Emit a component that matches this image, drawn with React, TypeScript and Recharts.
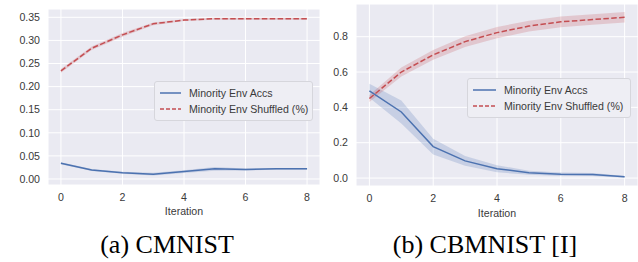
import { Area, CartesianGrid, ComposedChart, Legend, Line, XAxis, YAxis } from "recharts"

const ITERATIONS = [0, 1, 2, 3, 4, 5, 6, 7, 8]

// (a) CMNIST
const CMNIST_ACCS = [0.034, 0.0195, 0.0135, 0.0105, 0.016, 0.022, 0.0205, 0.022, 0.022]
const CMNIST_ACCS_SPREAD = [0.002, 0.002, 0.002, 0.003, 0.003, 0.004, 0.002, 0.002, 0.002]
const CMNIST_SHUF = [0.234, 0.283, 0.312, 0.336, 0.344, 0.347, 0.347, 0.347, 0.347]
const CMNIST_SHUF_SPREAD = [0.004, 0.004, 0.004, 0.003, 0.002, 0.002, 0.002, 0.002, 0.002]

// (b) CBMNIST [I]
const CBMNIST_ACCS = [0.494, 0.374, 0.178, 0.097, 0.053, 0.03, 0.022, 0.02, 0.007]
const CBMNIST_ACCS_SPREAD = [0.04, 0.065, 0.045, 0.028, 0.02, 0.012, 0.01, 0.008, 0.005]
const CBMNIST_SHUF = [0.45, 0.6, 0.697, 0.772, 0.823, 0.86, 0.884, 0.897, 0.91]
const CBMNIST_SHUF_SPREAD = [0.02, 0.025, 0.028, 0.03, 0.032, 0.03, 0.03, 0.03, 0.03]

const X_TICKS = [0, 2, 4, 6, 8]
const CMNIST_Y_TICKS = [0, 0.05, 0.1, 0.15, 0.2, 0.25, 0.3, 0.35]
const CBMNIST_Y_TICKS = [0, 0.2, 0.4, 0.6, 0.8]

const SERIES_NAMES = { acc: "Minority Env Accs", shuf: "Minority Env Shuffled (%)" }

const BLUE = "#4C72B0"
const RED = "#C44E52"
const TEXT = "#3a3a3a"
const FONT = "'Liberation Sans', Arial, sans-serif"

function buildRows(acc: number[], accS: number[], shuf: number[], shufS: number[]) {
  return ITERATIONS.map((it, i) => ({
    it,
    acc: acc[i],
    accBand: [acc[i] - accS[i], acc[i] + accS[i]],
    shuf: shuf[i],
    shufBand: [shuf[i] - shufS[i], shuf[i] + shufS[i]],
  }))
}

function LegendBox({ width, lineLen }: { width: number; lineLen: number }) {
  const items = [
    { key: "acc", color: BLUE, dash: undefined },
    { key: "shuf", color: RED, dash: "4 2" },
  ] as const
  return (
    <div
      style={{
        width,
        boxSizing: "border-box",
        padding: "3px 0 3px 5px",
        background: "#EEEEF4",
        border: "1px solid #D6D6DC",
        borderRadius: 3,
        fontFamily: FONT,
        fontSize: 10.6,
        color: TEXT,
      }}
    >
      {items.map((item) => (
        <div key={item.key} style={{ display: "flex", alignItems: "center", height: 16 }}>
          <svg width={lineLen} height={6} style={{ marginRight: 8 }}>
            <line
              x1={0}
              y1={3}
              x2={lineLen}
              y2={3}
              stroke={item.color}
              strokeWidth={1.5}
              strokeDasharray={item.dash}
            />
          </svg>
          <span style={{ whiteSpace: "nowrap" }}>{SERIES_NAMES[item.key]}</span>
        </div>
      ))}
    </div>
  )
}

function Panel({
  rows,
  yDomain,
  yTicks,
  yWidth,
  top,
  legendPos,
  legendWidth,
  lineLen,
  labelOffset,
  tickFmt,
}: {
  rows: ReturnType<typeof buildRows>
  yDomain: [number, number]
  yTicks: number[]
  yWidth: number
  top: number
  legendPos: { left: number; top: number }
  legendWidth: number
  lineLen: number
  labelOffset: number
  tickFmt: (v: number) => string
}) {
  const tickStyle = { fontSize: 10.6, fill: TEXT, fontFamily: FONT }
  return (
    <ComposedChart
      width={320}
      height={220}
      data={rows}
      margin={{ top, right: 0, bottom: 0, left: 0 }}
    >
      <CartesianGrid fill="#EAEAF2" stroke="#ffffff" strokeWidth={1} />
      <XAxis
        type="number"
        dataKey="it"
        domain={[-0.42, 8.42]}
        ticks={X_TICKS}
        allowDataOverflow
        axisLine={false}
        tickLine={false}
        tickSize={0}
        tickMargin={8}
        height={220 - top - (yDomain[1] > 0.5 ? 182 : 176)}
        tick={tickStyle}
        label={{
          value: "Iteration",
          position: "insideBottom",
          offset: labelOffset,
          style: { fontSize: 10.6, fill: TEXT, fontFamily: FONT },
        }}
      />
      <YAxis
        type="number"
        domain={yDomain}
        ticks={yTicks}
        allowDataOverflow
        axisLine={false}
        tickLine={false}
        tickSize={0}
        tickMargin={8}
        width={yWidth}
        tick={tickStyle}
        tickFormatter={tickFmt}
      />
      <Area
        dataKey="accBand"
        type="linear"
        stroke="none"
        fill={BLUE}
        fillOpacity={0.22}
        legendType="none"
        isAnimationActive={false}
      />
      <Area
        dataKey="shufBand"
        type="linear"
        stroke="none"
        fill={RED}
        fillOpacity={0.22}
        legendType="none"
        isAnimationActive={false}
      />
      <Line
        dataKey="acc"
        name={SERIES_NAMES.acc}
        type="linear"
        stroke={BLUE}
        strokeWidth={1.5}
        dot={false}
        isAnimationActive={false}
      />
      <Line
        dataKey="shuf"
        name={SERIES_NAMES.shuf}
        type="linear"
        stroke={RED}
        strokeWidth={1.5}
        strokeDasharray="5.5 2.4"
        dot={false}
        isAnimationActive={false}
      />
      <Legend
        layout="horizontal"
        verticalAlign="middle"
        align="center"
        wrapperStyle={{ left: legendPos.left, top: legendPos.top, width: legendWidth }}
        content={() => <LegendBox width={legendWidth} lineLen={lineLen} />}
      />
    </ComposedChart>
  )
}

export default function App() {
  const cmnistRows = buildRows(CMNIST_ACCS, CMNIST_ACCS_SPREAD, CMNIST_SHUF, CMNIST_SHUF_SPREAD)
  const cbmnistRows = buildRows(CBMNIST_ACCS, CBMNIST_ACCS_SPREAD, CBMNIST_SHUF, CBMNIST_SHUF_SPREAD)
  const caption = {
    position: "absolute" as const,
    width: 240,
    textAlign: "center" as const,
    fontFamily: "'Liberation Serif', 'Times New Roman', serif",
    fontSize: 26,
    lineHeight: "26px",
    color: "#000",
    top: 232,
  }
  return (
    <div style={{ position: "fixed", left: 0, top: 0, width: 638, height: 262, background: "#fff", overflow: "hidden" }}>
      <div style={{ position: "absolute", left: 0, top: 0 }}>
        <Panel
          rows={cmnistRows}
          yDomain={[-0.013, 0.368]}
          yTicks={CMNIST_Y_TICKS}
          yWidth={48}
          top={9}
          legendPos={{ left: 154, top: 81 }}
          legendWidth={159}
          lineLen={21}
          labelOffset={5.5}
          tickFmt={(v) => v.toFixed(2)}
        />
      </div>
      <div style={{ position: "absolute", left: 318, top: 0 }}>
        <Panel
          rows={cbmnistRows}
          yDomain={[-0.045, 0.985]}
          yTicks={CBMNIST_Y_TICKS}
          yWidth={38}
          top={4}
          legendPos={{ left: 149, top: 78 }}
          legendWidth={164}
          lineLen={23}
          labelOffset={3.5}
          tickFmt={(v) => v.toFixed(1)}
        />
      </div>
      <div style={{ ...caption, left: 47 }}>(a) CMNIST</div>
      <div style={{ ...caption, left: 365 }}>(b) CBMNIST [I]</div>
    </div>
  )
}
